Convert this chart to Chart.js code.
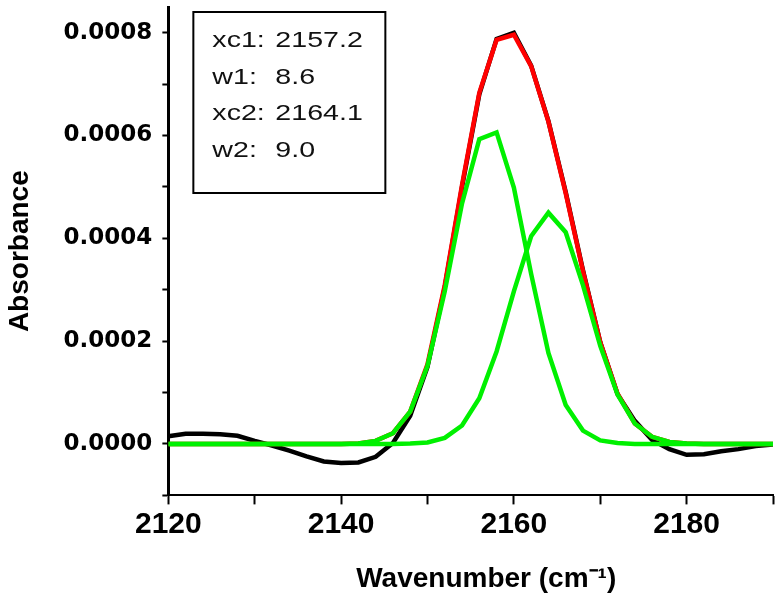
<!DOCTYPE html>
<html>
<head>
<meta charset="utf-8">
<script src="https://cdn.jsdelivr.net/npm/chart.js@4.4.1/dist/chart.umd.min.js"></script>
<style>
  html, body { margin: 0; padding: 0; background: #fff; }
  #wrap { width: 782px; height: 602px; position: relative; }
</style>
</head>
<body>
<div id="wrap"><canvas id="c" width="782" height="602"></canvas></div>
<script>
// ---- data ----
const wavenumbers = [2120,2122,2124,2126,2128,2130,2132,2134,2136,2138,2140,2142,2144,2146,2148,2150,2152,2154,2156,2158,2160,2162,2164,2166,2168,2170,2172,2174,2176,2178,2180,2182,2184,2186,2188,2190];
const measured = [0.000015,0.000020,0.000020,0.000019,0.000016,0.000006,-0.000003,-0.000013,-0.000024,-0.000034,-0.000037,-0.000036,-0.000025,0.000002,0.000055,0.000150,0.000305,0.000500,0.000680,0.000788,0.000800,0.000736,0.000628,0.000490,0.000338,0.000198,0.000097,0.000045,0.000008,-0.000010,-0.000021,-0.000020,-0.000014,-0.000010,-0.000004,-0.000001];
const fitSum = [0,0,0,0,0,0,0,0,0,0,0,0.000001,0.000006,0.000021,0.000063,0.000155,0.000309,0.000504,0.000683,0.000786,0.000796,0.000735,0.000627,0.000488,0.000336,0.000198,0.000098,0.000040,0.000014,0.000004,0.000001,0,0,0,0,0];
const peak1 = [0,0,0,0,0,0,0,0,0,0,0,0.000001,0.000006,0.000021,0.000063,0.000152,0.000297,0.000468,0.000593,0.000606,0.000499,0.000331,0.000177,0.000076,0.000026,0.000007,0.000002,0,0,0,0,0,0,0,0,0];
const peak2 = [0,0,0,0,0,0,0,0,0,0,0,0,0,0,0.000001,0.000003,0.000012,0.000036,0.000089,0.000180,0.000297,0.000404,0.000450,0.000412,0.000309,0.000191,0.000096,0.000040,0.000014,0.000004,0.000001,0,0,0,0,0];
const yTickValues = [-0.0001,0,0.0001,0.0002,0.0003,0.0004,0.0005,0.0006,0.0007,0.0008];
const xTickValues = [2120,2130,2140,2150,2160,2170,2180,2190];
const boxLabels = ["xc1:", "w1:", "xc2:", "w2:"];
const boxValues = ["2157.2", "8.6", "2164.1", "9.0"];
const xTitle = "    Wavenumber (cm\u207B\u00B9)";
const yTitle = "Absorbance";

const pts = arr => wavenumbers.map((x, i) => ({ x: x, y: arr[i] }));

const textBox = {
  id: 'textBox',
  afterDraw(chart) {
    const ctx = chart.ctx, a = chart.chartArea;
    const bx = a.left + 25, by = a.top + 5, bw = 192, bh = 181;
    ctx.save();
    ctx.fillStyle = '#fff';
    ctx.fillRect(bx, by, bw, bh);
    ctx.lineWidth = 2;
    ctx.strokeStyle = '#000';
    ctx.strokeRect(bx, by, bw, bh);
    ctx.fillStyle = '#111';
    ctx.font = '22px "Liberation Sans", Arial, sans-serif';
    ctx.textBaseline = 'alphabetic';
    ctx.textAlign = 'left';
    for (let i = 0; i < boxLabels.length; i++) {
      const base = by + 35 + i * 36.7;
      ctx.save(); ctx.translate(bx + 19, base); ctx.scale(1.3, 1); ctx.fillText(boxLabels[i], 0, 0); ctx.restore();
      ctx.save(); ctx.translate(bx + 82, base); ctx.scale(1.3, 1); ctx.fillText(boxValues[i], 0, 0); ctx.restore();
    }
    ctx.restore();
  }
};

new Chart(document.getElementById('c'), {
  type: 'scatter',
  data: {
    datasets: [
      { label: 'peak 1', data: pts(peak1), showLine: true, borderColor: '#00f000', borderWidth: 4.5, pointRadius: 0, tension: 0, fill: false },
      { label: 'peak 2', data: pts(peak2), showLine: true, borderColor: '#00f000', borderWidth: 4.5, pointRadius: 0, tension: 0, fill: false },
      { label: 'fit', data: pts(fitSum), showLine: true, borderColor: '#ff0000', borderWidth: 4.5, pointRadius: 0, tension: 0, fill: false },
      { label: 'measured', data: pts(measured), showLine: true, borderColor: '#000000', borderWidth: 4.5, pointRadius: 0, tension: 0, fill: false }
    ]
  },
  options: {
    responsive: false,
    animation: false,
    layout: { padding: { left: 3, right: 9, top: 7, bottom: 6 } },
    plugins: { legend: { display: false }, tooltip: { enabled: false } },
    scales: {
      x: {
        type: 'linear', min: 2120, max: 2190,
        afterBuildTicks: s => { s.ticks = xTickValues.map(v => ({ value: v })); },
        border: { color: '#000', width: 2 },
        grid: { display: true, drawOnChartArea: false, drawTicks: true, tickLength: 9, tickWidth: 2, tickColor: '#000' },
        ticks: {
          autoSkip: false, maxRotation: 0, padding: 2, color: '#000',
          font: { family: '"Liberation Sans", Arial, sans-serif', size: 30, weight: 'bold' },
          callback: v => (Math.round(v) % 20 === 0 ? String(Math.round(v)) : '')
        },
        title: { display: true, text: xTitle, color: '#000', padding: { top: 18, bottom: 0 },
          font: { family: '"Liberation Sans", Arial, sans-serif', size: 28, weight: 'bold' } }
      },
      y: {
        type: 'linear', min: -0.0001, max: 0.00085,
        afterBuildTicks: s => { s.ticks = yTickValues.map(v => ({ value: v })); },
        afterFit: s => { s.paddingTop = 0; s.paddingBottom = 0; },
        border: { color: '#000', width: 3 },
        grid: { display: true, drawOnChartArea: false, drawTicks: true, tickLength: 6, tickWidth: 2, tickColor: '#000' },
        ticks: {
          autoSkip: false, padding: 10, color: '#000',
          font: { family: '"DejaVu Sans", sans-serif', size: 23, weight: 'bold' },
          callback: v => { const n = Math.round(v * 10000); return (n >= 0 && n % 2 === 0) ? (n / 10000).toFixed(4) : ''; }
        },
        title: { display: true, text: yTitle, color: '#000', padding: { top: 0, bottom: 17 },
          font: { family: '"Liberation Sans", Arial, sans-serif', size: 28, weight: 'bold' } }
      }
    }
  },
  plugins: [textBox]
});
</script>
</body>
</html>
